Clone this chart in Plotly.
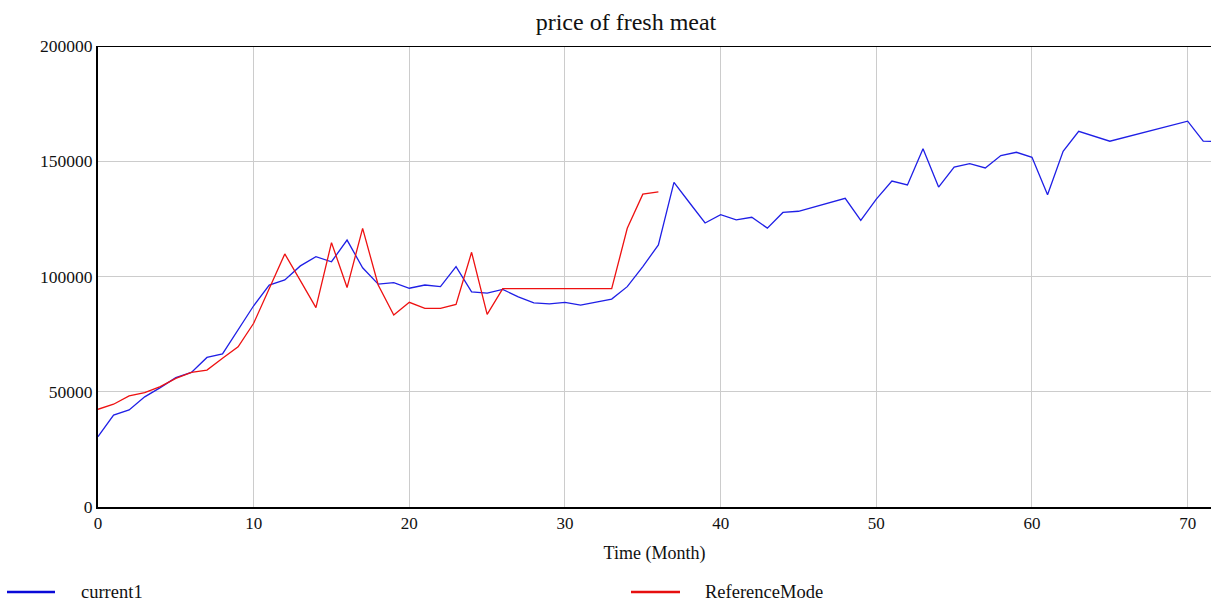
import plotly.graph_objects as go

months_current = list(range(0, 46)) + [48, 49, 50, 51, 52, 53, 54, 55, 56, 57, 58, 59, 60, 61, 62, 63, 65, 70, 71, 72]
current1 = [30500, 39900, 42100, 47800, 51800, 56100, 58400, 64900, 66400, 76800,
            87300, 96300, 98500, 104600, 108600, 106400, 115800, 103800, 96700, 97300,
            94900, 96300, 95600, 104300, 93300, 92800, 94400, 91200, 88600, 88100,
            88800, 87600, 88800, 90200, 95600, 104300, 113700, 140800, 132000, 123200,
            126800, 124600, 125700, 121000, 127800, 128300,
            133900, 124300, 133600, 141400, 139700, 155400, 138800, 147500, 149000, 147100,
            152500, 153900, 151700, 135500, 154300, 163000, 158700, 167400, 158700, 158500]

months_ref = list(range(0, 37))
reference_mode = [42400, 44600, 48200, 49600, 52200, 55800, 58400, 59400, 64500, 69500,
                  79700, 94900, 109800, 98200, 86500, 114700, 95200, 120900, 96300, 83300,
                  88800, 86200, 86200, 87900, 110500, 83600, 94700, 94700, 94700, 94700,
                  94700, 94700, 94700, 94700, 120900, 135700, 136700]

series_names = ["current1", "ReferenceMode"]
series_colors = ["#1f1fe6", "#ee1111"]
legend_colors = ["#0a0ad8", "#e60f0f"]

x_ticks = [0, 10, 20, 30, 40, 50, 60, 70]
y_ticks = [0, 50000, 100000, 150000, 200000]

serif = "Liberation Serif, Times New Roman, serif"
W, H = 1211, 601
ML, MT, MR = 98, 46, 0
MB = H - 507
PW, PH = W - ML - MR, H - MT - MB

def px_to_paper_x(px):
    return (px - ML) / PW

def px_to_paper_y(py):
    return (H - MB - py) / PH

fig = go.Figure()
fig.add_trace(go.Scatter(x=months_current, y=current1, mode="lines", name=series_names[0],
                         line=dict(color=series_colors[0], width=1.3), showlegend=False))
fig.add_trace(go.Scatter(x=months_ref, y=reference_mode, mode="lines", name=series_names[1],
                         line=dict(color=series_colors[1], width=1.3), showlegend=False))

fig.update_layout(
    width=W, height=H,
    margin=dict(l=ML, r=MR, t=MT, b=MB, autoexpand=False),
    paper_bgcolor="white", plot_bgcolor="white",
    font=dict(family=serif, size=18, color="#111"),
    title=dict(text="price of fresh meat", x=626 / W, xanchor="center",
               y=1 - 22 / H, yanchor="middle",
               font=dict(family=serif, size=24, color="#111")),
    showlegend=False,
    xaxis=dict(range=[0, 71.5], tickvals=x_ticks, ticktext=[str(v) for v in x_ticks],
               showgrid=True, gridcolor="#cccccc", gridwidth=1, zeroline=False, automargin=False,
               showline=True, linecolor="black", linewidth=2, ticks="",
               tickfont=dict(family=serif, size=17, color="#111"),
               title=dict(text="Time (Month)", standoff=14, font=dict(family=serif, size=18, color="#111"))),
    yaxis=dict(range=[0, 200000], tickvals=y_ticks, ticktext=[str(v) for v in y_ticks],
               showgrid=True, gridcolor="#cccccc", gridwidth=1, zeroline=False, automargin=False,
               showline=True, linecolor="black", linewidth=2, ticks="",
               tickfont=dict(family=serif, size=17.5, color="#111")),
)
fig.add_shape(type="line", xref="paper", yref="y", x0=0, x1=1, y0=200000, y1=200000,
              line=dict(color="black", width=2))

# manual legend row at the bottom
legend_line_px = [(7, 55), (631, 680)]
legend_text_px = [79, 703]
legend_y_px = 592
for name, col, (x0, x1), tx in zip(series_names, legend_colors, legend_line_px, legend_text_px):
    fig.add_shape(type="line", xref="paper", yref="paper",
                  x0=px_to_paper_x(x0), x1=px_to_paper_x(x1),
                  y0=px_to_paper_y(legend_y_px), y1=px_to_paper_y(legend_y_px),
                  line=dict(color=col, width=2.5))
    fig.add_annotation(text=name, xref="paper", yref="paper", x=px_to_paper_x(tx),
                       y=px_to_paper_y(legend_y_px), xanchor="left", yanchor="middle",
                       showarrow=False, font=dict(family=serif, size=18.5, color="#111"))

fig.write_html("out.html", config={"displayModeBar": False},
               post_script="document.body.style.margin='0';document.body.style.overflow='hidden';")
